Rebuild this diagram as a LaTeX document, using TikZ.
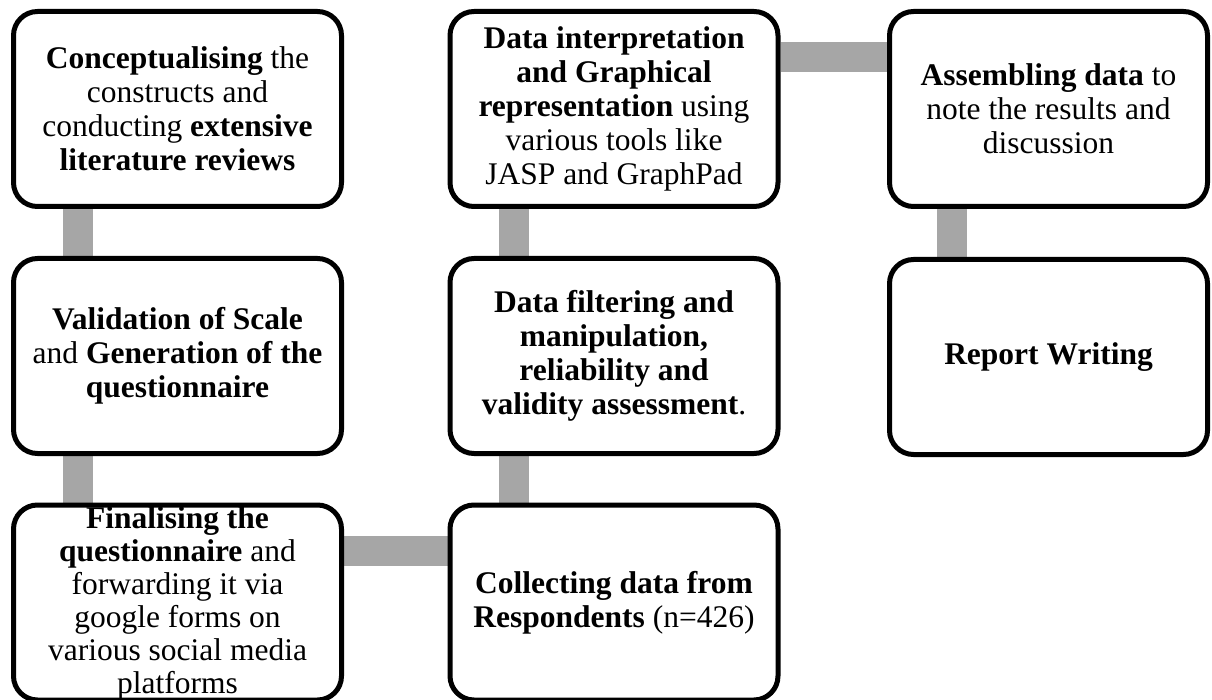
\documentclass[tikz,border=0pt]{standalone}
\usepackage{fontspec}
\setmainfont{Liberation Serif}
\usetikzlibrary{backgrounds}
\definecolor{linkgray}{HTML}{A6A6A6}
\tikzset{
  stage/.style={draw=black, line width=5pt, rounded corners=24pt, fill=white,
    minimum width=328pt, minimum height=195pt, inner sep=0pt, align=center,
    font=\fontsize{31.5}{34}\selectfont},
  stagetext/.style={inner sep=0pt, align=center,
    font=\fontsize{31.5}{33}\selectfont},
  link/.style={draw=linkgray, line width=30pt}
}
\begin{document}
\begin{tikzpicture}[x=1pt, y=-1pt]
\useasboundingbox (0,0) rectangle (1212,700);

% left column
\node[stage] (b1) at (177.5,109) {\textbf{Conceptualising} the\\ constructs and\\ conducting \textbf{extensive}\\ \textbf{literature reviews}};
\node[stage] (b2) at (177.5,356) {\textbf{Validation of Scale}\\ and \textbf{Generation of the}\\ \textbf{questionnaire}};
\node[stage] (b3) at (177.5,602.5) {};
\node[stagetext] (t3) at ([yshift=-1pt]b3.center) {\textbf{Finalising the}\\ \textbf{questionnaire} and\\ forwarding it via\\ google forms on\\ various social media\\ platforms};

% middle column
\node[stage] (b4) at (614,602.5) {\textbf{Collecting data from}\\ \textbf{Respondents} (n=426)};
\node[stage] (b5) at (614,356) {\textbf{Data filtering and}\\ \textbf{manipulation,}\\ \textbf{reliability and}\\ \textbf{validity assessment}.};
\node[stage] (b6) at (614,109) {\textbf{Data interpretation}\\ \textbf{and Graphical}\\ \textbf{representation} using\\ various tools like\\ JASP and GraphPad};

% right column
\node[stage, minimum width=318pt] (b7) at (1048.5,109) {\textbf{Assembling data} to\\ note the results and\\ discussion};
\node[stage, minimum width=318pt] (b8) at (1048.5,357) {\textbf{Report Writing}};

% grey links behind the boxes
\begin{scope}[on background layer]
  \draw[link] ([xshift=66.5pt]b1.south west) -- ([xshift=66.5pt]b2.north west);
  \draw[link] ([xshift=66.5pt]b2.south west) -- ([xshift=66.5pt]b3.north west);
  \draw[link] ([yshift=-48pt]b3.north east) -- ([yshift=-48pt]b4.north west);
  \draw[link] ([xshift=66.5pt]b4.north west) -- ([xshift=66.5pt]b5.south west);
  \draw[link] ([xshift=66.5pt]b5.north west) -- ([xshift=66.5pt]b6.south west);
  \draw[link] ([yshift=-48.5pt]b6.north east) -- ([yshift=-48.5pt]b7.north west);
  \draw[link] ([xshift=64.5pt]b7.south west) -- ([xshift=64.5pt]b8.north west);
\end{scope}
\end{tikzpicture}
\end{document}
